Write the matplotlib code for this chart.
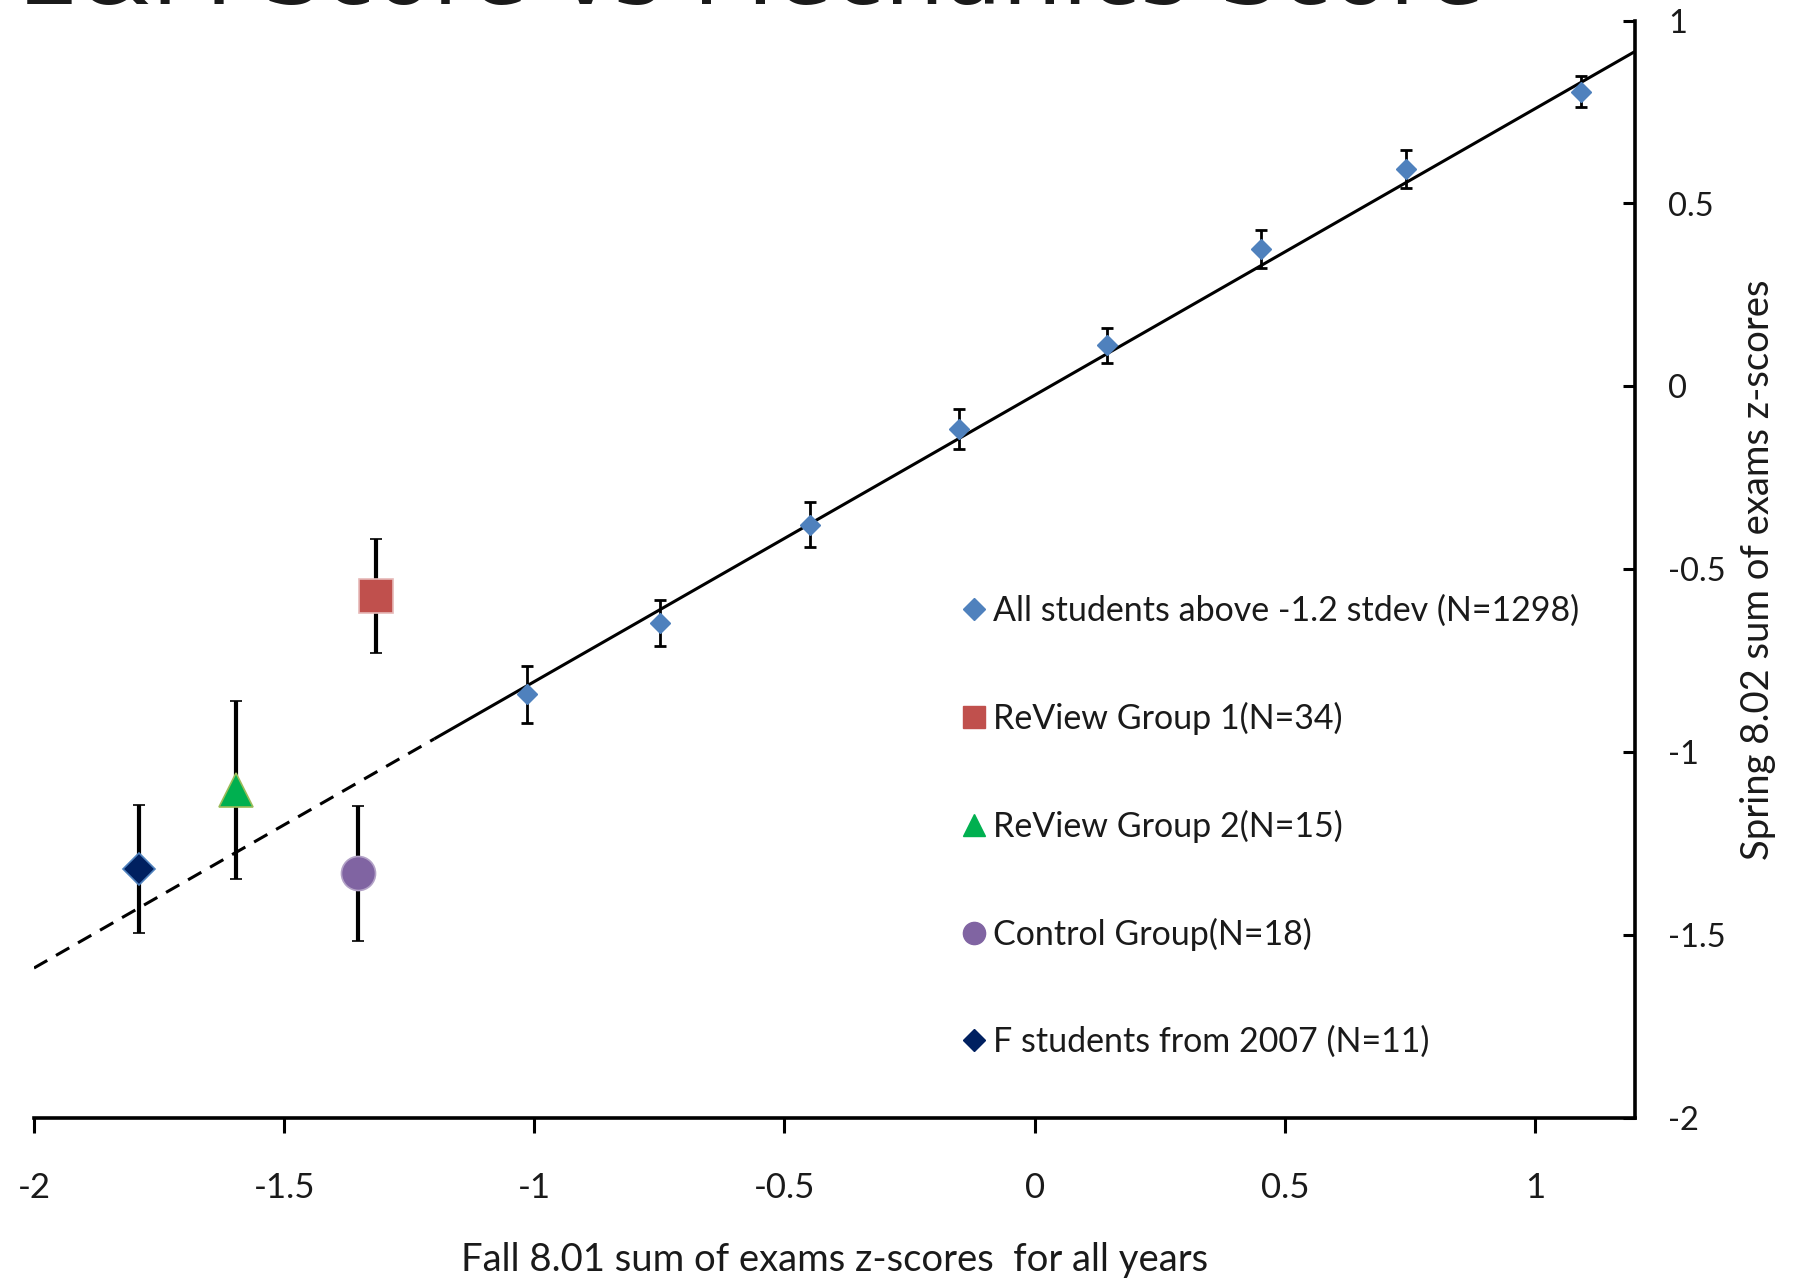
import matplotlib
matplotlib.use('Agg')
import matplotlib.pyplot as plt
from matplotlib.lines import Line2D
import numpy as np

plt.rcParams['font.family'] = ['Lato', 'DejaVu Sans']

# ---------------- data ----------------
title_text = "E&M Score vs Mechanics Score"
x_label = "Fall 8.01 sum of exams z-scores  for all years"
y_label = "Spring 8.02 sum of exams z-scores"

x_ticks = [-2, -1.5, -1, -0.5, 0, 0.5, 1]
x_tick_labels = ["-2", "-1.5", "-1", "-0.5", "0", "0.5", "1"]
y_ticks = [-2, -1.5, -1, -0.5, 0, 0.5, 1]
y_tick_labels = ["-2", "-1.5", "-1", "-0.5", "0", "0.5", "1"]

all_label = "All students above -1.2 stdev (N=1298)"
all_x = [-1.015, -0.748, -0.448, -0.151, 0.144, 0.453, 0.743, 1.092]
all_y = [-0.841, -0.647, -0.378, -0.116, 0.112, 0.375, 0.594, 0.806]
all_err = [0.078, 0.064, 0.062, 0.055, 0.047, 0.052, 0.052, 0.042]

group_labels = ["ReView Group 1(N=34)", "ReView Group 2(N=15)",
                "Control Group(N=18)", "F students from 2007 (N=11)"]
group_x = [-1.316, -1.596, -1.353, -1.791]
group_y = [-0.572, -1.103, -1.331, -1.320]
group_err = [0.156, 0.243, 0.184, 0.175]

fit_slope = 0.783
fit_intercept = -0.024
fit_solid_range = [-1.2, 1.2]
fit_dashed_range = [-2.0, -1.2]

# ---------------- styles ----------------
group_markers = ['s', '^', 'o', 'D']
group_colors = ['#C0504D', '#00B050', '#8064A2', '#002060']
group_edges = ['#E6B9B8', '#9BBB59', '#B3A2C7', '#4F81BD']
group_ms = [24.5, 24, 24.5, 16.8]
legend_ms = [16, 16, 16, 11]
blue = '#4F81BD'
txt = '#1a1a1a'

W, H = 1793, 1278
fig = plt.figure(figsize=(W / 100, H / 100), dpi=100)
ax_left, ax_right, ax_top, ax_bottom = 34, 1635, 20.6, 1118
ax = fig.add_axes([ax_left / W, (H - ax_bottom) / H,
                   (ax_right - ax_left) / W, (ax_bottom - ax_top) / H])
ax.set_xlim(-2, 1.2)
ax.set_ylim(-2, 1)

for s in ['left', 'top']:
    ax.spines[s].set_visible(False)
for s in ['right', 'bottom']:
    ax.spines[s].set_linewidth(2.6)
    ax.spines[s].set_color('black')

ax.yaxis.set_ticks_position('right')
ax.yaxis.set_label_position('right')
ax.set_xticks(x_ticks)
ax.set_xticklabels(x_tick_labels)
ax.set_yticks(y_ticks)
ax.set_yticklabels(y_tick_labels)
ax.tick_params(axis='x', direction='out', length=11, width=2.2, pad=28,
               labelsize=25, labelcolor=txt)
ax.tick_params(axis='y', direction='in', length=8.6, width=2.2, pad=24,
               labelsize=23.5, labelcolor=txt, labelright=True, labelleft=False)
for t in ax.yaxis.get_major_ticks():
    t.label2.set_horizontalalignment('left')

ax.set_xlabel(x_label, fontsize=27.5, color=txt, labelpad=27)
ax.set_ylabel(y_label, fontsize=27.5, color=txt, labelpad=10)

# trend line
xs = np.array(fit_solid_range)
ax.plot(xs, fit_slope * xs + fit_intercept, color='black', lw=2.2,
        solid_capstyle='butt', zorder=2)
xd = np.array(fit_dashed_range)
ax.plot(xd, fit_slope * xd + fit_intercept, color='black', lw=2.2,
        linestyle=(0, (5, 3.3)), zorder=2)

# all students
ax.errorbar(all_x, all_y, yerr=all_err, fmt='D', color=blue, ms=10,
            mec=blue, ecolor='black', elinewidth=2.0, capsize=4.3,
            capthick=2.0, zorder=3)

# groups
for gx, gy, ge, m, c, ec, ms in zip(group_x, group_y, group_err, group_markers,
                                    group_colors, group_edges, group_ms):
    ax.errorbar([gx], [gy], yerr=[ge], fmt=m, color=c, ms=ms, mec=ec, mew=1.2,
                ecolor='black', elinewidth=3.0, capsize=4.5, capthick=2.6,
                zorder=4)

# legend
handles = [Line2D([], [], ls='none', marker='D', color=blue, ms=11, mec=blue)]
for m, c, ms in zip(group_markers, group_colors, legend_ms):
    handles.append(Line2D([], [], ls='none', marker=m, color=c, ms=ms, mec=c))
labels = [all_label] + group_labels
ax.legend(handles, labels, loc='center left', bbox_to_anchor=(0.579, 0.2655),
          frameon=False, handlelength=0.75, handletextpad=0.2,
          labelspacing=2.2, borderpad=0, borderaxespad=0, fontsize=24.5,
          labelcolor=txt)

# title (clipped at top of figure as in the reference)
fig.text(18 / W, 1 - 4.0 / H, title_text, fontsize=68, family='DejaVu Sans',
         va='baseline', ha='left', color=txt)

fig.savefig('out.png', dpi=100)
